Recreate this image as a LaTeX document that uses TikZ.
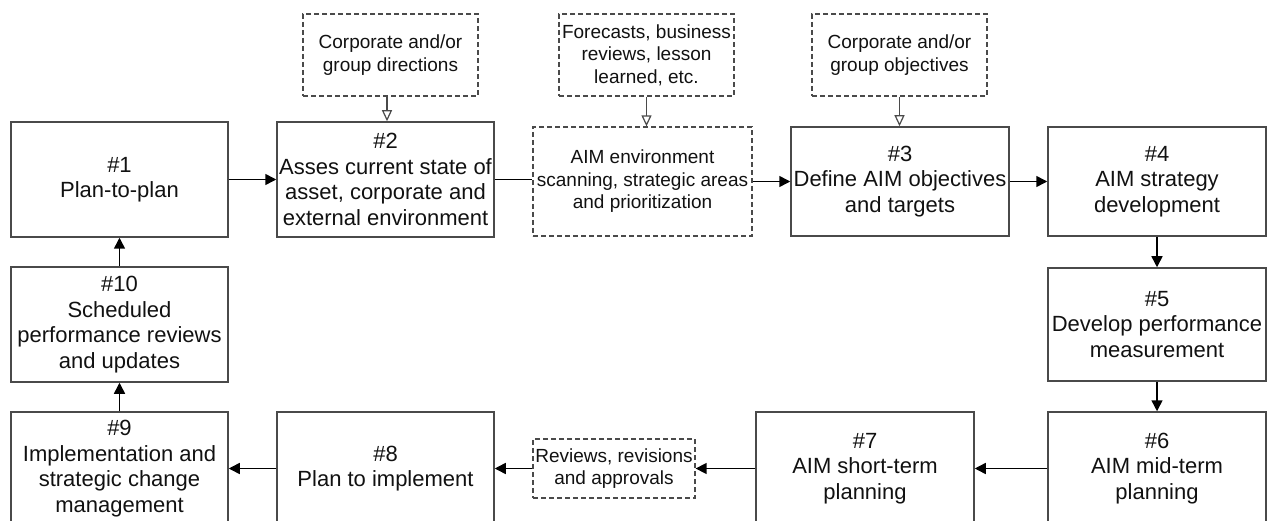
\documentclass[tikz,border=0pt]{standalone}
\usepackage{fontspec}
\setmainfont{Liberation Sans}
\usetikzlibrary{arrows.meta}
\definecolor{boxline}{HTML}{4A4A4A}
\definecolor{ink}{HTML}{111111}
\tikzset{
  stepbox/.style={draw=boxline, line width=1.5pt, rectangle, align=center,
    text=ink, font=\fontsize{22}{25.5}\selectfont, inner sep=0pt},
  inputbox/.style={draw=boxline, line width=1.3pt, dash pattern=on 5pt off 3pt,
    rectangle, align=center, text=ink, font=\fontsize{19}{22.5}\selectfont, inner sep=0pt},
  flow/.style={line width=1.5pt, -{Triangle[length=11pt,width=11pt]}},
  feed/.style={line width=1.2pt, draw=boxline, -{Triangle[open,length=11pt,width=10pt]}},
  link/.style={line width=1.5pt}
}
\begin{document}
\begin{tikzpicture}[x=1pt,y=-1pt]
\useasboundingbox (0,0) rectangle (1268,521);

% main steps
\node[stepbox, minimum width=217pt, minimum height=115pt] (s1) at (119.5,179.5) {\#1\\Plan-to-plan};
\node[stepbox, minimum width=217pt, minimum height=115pt] (s2) at (385.5,179.5) {\#2\\Asses current state of\\asset, corporate and\\external environment};
\node[stepbox, minimum width=218pt, minimum height=109pt] (s3) at (900,181.5) {\#3\\Define AIM objectives\\and targets};
\node[stepbox, minimum width=218pt, minimum height=109pt] (s4) at (1157,181.5) {\#4\\AIM strategy\\development};
\node[stepbox, minimum width=218pt, minimum height=113pt] (s5) at (1157,324.5) {\#5\\Develop performance\\measurement};
\node[stepbox, minimum width=218pt, minimum height=113pt] (s6) at (1157,468.5) {\#6\\AIM mid-term\\planning};
\node[stepbox, minimum width=218pt, minimum height=113pt] (s7) at (865,468.5) {\#7\\AIM short-term\\planning};
\node[stepbox, minimum width=217pt, minimum height=113pt] (s8) at (385.5,468.5) {\#8\\Plan to implement};
\node[stepbox, minimum width=217pt, minimum height=113pt] (s9) at (119.5,468.5) {\#9\\Implementation and\\strategic change\\management};
\node[stepbox, minimum width=217pt, minimum height=115pt] (s10) at (119.5,324.5) {\#10\\Scheduled\\performance reviews\\and updates};

% inputs and intermediate activities
\node[inputbox, minimum width=175pt, minimum height=82pt] (in1) at (390.5,55) {Corporate and/or\\group directions};
\node[inputbox, minimum width=175pt, minimum height=82pt] (in2) at (646.5,55) {Forecasts, business\\reviews, lesson\\learned, etc.};
\node[inputbox, minimum width=175pt, minimum height=82pt] (in3) at (899.5,55) {Corporate and/or\\group objectives};
\node[inputbox, minimum width=219pt, minimum height=109pt] (scan) at (642.5,181.5) {AIM environment\\scanning, strategic areas\\and prioritization};
\node[inputbox, minimum width=162pt, minimum height=59pt] (rev) at (614,468.5) {Reviews, revisions\\and approvals};

% main flow
\draw[flow] (s1.east) -- (s2.west);
\draw[link] (s2.east) -- (s2.east -| scan.west);
\draw[flow] (scan.east) -- (s3.west);
\draw[flow] (s3.east) -- (s4.west);
\draw[flow] (s4.south) -- (s5.north);
\draw[flow] (s5.south) -- (s6.north);
\draw[flow] (s6.west) -- (s7.east);
\draw[flow] (s7.west) -- (rev.east);
\draw[flow] (rev.west) -- (s8.east);
\draw[flow] (s8.west) -- (s9.east);
\draw[flow] (s9.north) -- (s10.south);
\draw[flow] (s10.north) -- (s1.south);

% feeding inputs
\draw[feed] (in1.south -| s2.north) ++(1.5,0) coordinate (f1) -- (f1 |- s2.north);
\draw[feed] (in2.south) -- (in2.south |- scan.north);
\draw[feed] (in3.south) -- (in3.south |- s3.north);
\end{tikzpicture}
\end{document}
